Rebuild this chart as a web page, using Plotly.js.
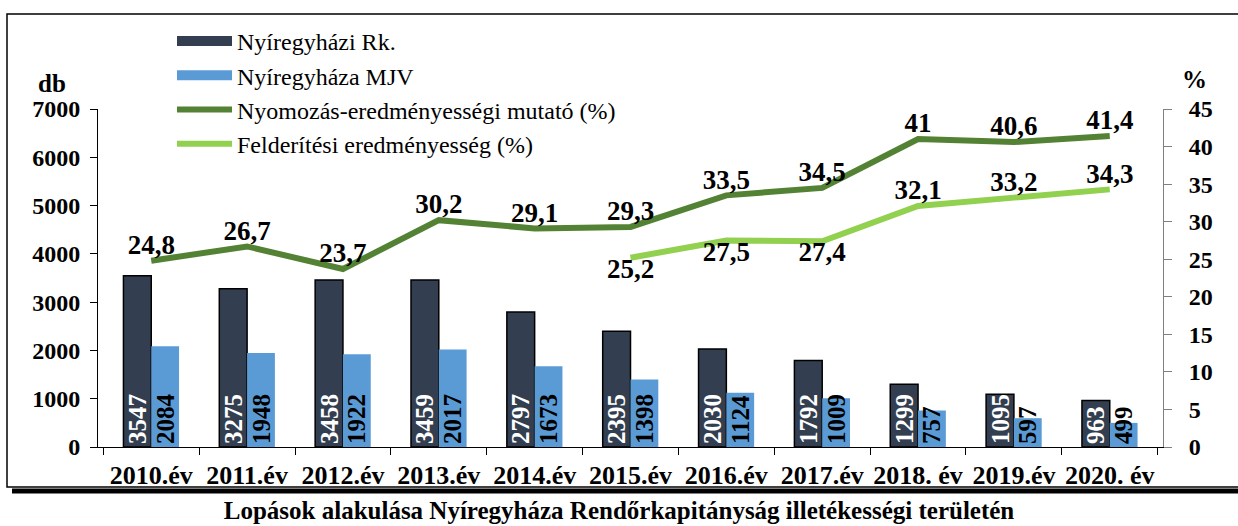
<!DOCTYPE html>
<html><head><meta charset="utf-8">
<script src="https://cdn.plot.ly/plotly-3.0.1.min.js"></script>
<style>html,body{margin:0;padding:0;background:#fff;} #chart{width:1238px;height:526px;}</style>
</head><body><div id="chart"></div>
<script>
// ---- data ----
const years = ['2010.év','2011.év','2012.év','2013.év','2014.év','2015.év','2016.év','2017.év','2018. év','2019.év','2020. év'];
const rkValues = [3547,3275,3458,3459,2797,2395,2030,1792,1299,1095,963];
const mjvValues = [2084,1948,1922,2017,1673,1398,1124,1009,757,597,499];
const nyomozasValues = [24.8,26.7,23.7,30.2,29.1,29.3,33.5,34.5,41,40.6,41.4];
const felderitesYears = ['2015.év','2016.év','2017.év','2018. év','2019.év','2020. év'];
const felderitesValues = [25.2,27.5,27.4,32.1,33.2,34.3];
const seriesNames = ['Nyíregyházi Rk.','Nyíregyháza MJV','Nyomozás-eredményességi mutató (%)','Felderítési eredményesség (%)'];
const leftTitle = 'db', rightTitle = '%';
const chartTitle = 'Lopások alakulása Nyíregyháza Rendőrkapitányság illetékességi területén';

// ---- style ----
const FONT = 'Liberation Serif, Times New Roman, serif';
const C_RK = '#333F50', C_MJV = '#5B9BD5', C_NY = '#548235', C_FE = '#92D050';
const hu = v => String(v).replace('.', ',');
const bold = (size, color) => ({family: FONT, size: size, color: color || '#000', weight: 'bold'});

const traces = [
  // legend swatches for the two bar series (wide rectangles as in the original legend)
  {type:'scatter', mode:'lines', name:seriesNames[0], x:[null], y:[null], line:{color:C_RK, width:12}, hoverinfo:'skip', legendgroup:'rk'},
  {type:'scatter', mode:'lines', name:seriesNames[1], x:[null], y:[null], line:{color:C_MJV, width:12}, hoverinfo:'skip', legendgroup:'mjv'},
  {type:'bar', name:seriesNames[0], x:years, y:rkValues, showlegend:false, legendgroup:'rk',
   marker:{color:C_RK, line:{color:'#000', width:1.5}},
   text:rkValues.map(String), textposition:'inside', insidetextanchor:'start', textangle:-90,
   insidetextfont:bold(25,'#fff'), hoverinfo:'skip'},
  {type:'bar', name:seriesNames[1], x:years, y:mjvValues, showlegend:false, legendgroup:'mjv',
   marker:{color:C_MJV},
   text:mjvValues.map(String), textposition:'inside', insidetextanchor:'start', textangle:-90,
   insidetextfont:bold(25,'#000'), hoverinfo:'skip'},
  {type:'scatter', mode:'lines+text', name:seriesNames[2], x:years, y:nyomozasValues, yaxis:'y2',
   line:{color:C_NY, width:6},
   text:nyomozasValues.map(hu), textposition:'top center', textfont:bold(27), cliponaxis:false},
  {type:'scatter', mode:'lines+text', name:seriesNames[3], x:felderitesYears, y:felderitesValues, yaxis:'y2',
   line:{color:C_FE, width:6},
   text:felderitesValues.map(hu), textposition:['bottom center','bottom center','bottom center','top center','top center','top center'],
   textfont:bold(27), cliponaxis:false}
];

// plot area geometry in px -> paper conversion
const L=98, R=75, T=109, B=79, W=1238, H=526;
const pw = W-L-R, ph = H-T-B;
const px = x => (x-L)/pw;
const py = y => 1-(y-T)/ph;

const layout = {
  width:W, height:H,
  margin:{l:L, r:R, t:T, b:B},
  paper_bgcolor:'#fff', plot_bgcolor:'#fff',
  font:{family:FONT, color:'#000'},
  barmode:'group', bargap:0.42, bargroupgap:0,
  uniformtext:{mode:'show', minsize:25},
  showlegend:true,
  legend:{x:px(172), y:py(19), xanchor:'left', yanchor:'top', bgcolor:'rgba(255,255,255,0)',
          font:{family:FONT, size:24, color:'#000'}, itemwidth:55, tracegroupgap:0, traceorder:'normal'},
  title:{text:chartTitle, font:bold(25), x:0.5, xanchor:'center', y:1-510/526, yanchor:'middle', yref:'container'},
  xaxis:{type:'category', showline:true, linecolor:'#000', linewidth:1, ticks:'outside', tickson:'boundaries',
         ticklen:7, tickcolor:'#000', tickfont:bold(26), tickangle:0, ticklabelstandoff:5,
         showgrid:false, zeroline:false, fixedrange:true},
  yaxis:{range:[0,7000], dtick:1000, showline:true, linecolor:'#000', ticks:'outside', ticklen:7, tickcolor:'#000',
         tickfont:bold(24), showgrid:false, zeroline:false, ticklabelstandoff:5},
  yaxis2:{overlaying:'y', side:'right', range:[0,45], dtick:5, showline:true, linecolor:'#808080', ticks:'outside',
          ticklen:8, tickcolor:'#808080', tickfont:bold(24), showgrid:false, zeroline:false, ticklabelstandoff:12},
  annotations:[
    {text:leftTitle, xref:'paper', yref:'paper', x:px(52), y:py(83), showarrow:false, font:bold(25), xanchor:'center', yanchor:'middle'},
    {text:rightTitle, xref:'paper', yref:'paper', x:px(1194), y:py(80), showarrow:false, font:bold(25), xanchor:'center', yanchor:'middle'}
  ],
  shapes:[
    {type:'rect', xref:'paper', yref:'paper', x0:px(7), x1:px(1245), y0:py(487), y1:py(14), line:{color:'#000', width:1.5}, layer:'below'},
    {type:'line', xref:'paper', yref:'paper', x0:px(12), x1:px(1245), y0:py(491), y1:py(491), line:{color:'#000', width:5}}
  ]
};

Plotly.newPlot('chart', traces, layout, {displayModeBar:false, staticPlot:true});
</script>
</body></html>
